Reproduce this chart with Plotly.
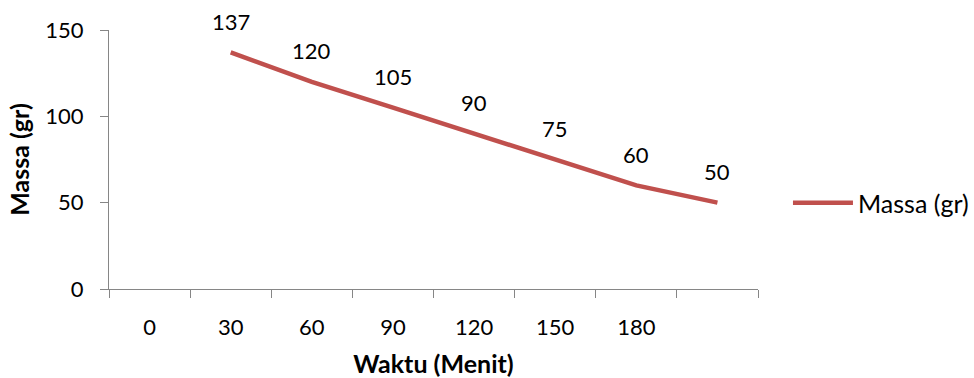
import plotly.graph_objects as go

# Time slots on the category axis (last slot carries no label)
waktu_labels = ["0", "30", "60", "90", "120", "150", "180", " "]
# Mass readings; the series begins in the second slot
massa = [None, 137, 120, 105, 90, 75, 60, 50]

line_color = "#C0504D"
axis_color = "#868686"
font_family = "Lato, 'Open Sans', sans-serif"
fs_tick = 22
fs_title = 25

fig = go.Figure()
fig.add_trace(go.Scatter(
    x=waktu_labels,
    y=massa,
    mode="lines",
    name="Massa (gr)",
    line=dict(color=line_color, width=4.5),
    connectgaps=False,
))

# Value labels above each point (category index used as x position)
for i, yv in enumerate(massa):
    if yv is None:
        continue
    fig.add_annotation(
        x=i, y=yv, xref="x", yref="y", text=str(yv), showarrow=False,
        yshift=31, font=dict(size=fs_tick, color="#000000", family=font_family),
    )

fig.update_layout(
    width=974, height=378,
    margin=dict(l=109, r=216, t=30, b=89),
    paper_bgcolor="white", plot_bgcolor="white",
    font=dict(family=font_family, size=fs_tick, color="#000000"),
    showlegend=True,
    legend=dict(
        xref="container", yref="container",
        x=0.809, y=1 - 203 / 378, xanchor="left", yanchor="middle",
        font=dict(size=fs_title), bgcolor="rgba(0,0,0,0)", itemwidth=60,
    ),
    xaxis=dict(
        type="category",
        categoryorder="array", categoryarray=waktu_labels,
        tickson="boundaries",
        ticks="outside", ticklen=8, tickcolor=axis_color, tickwidth=1.3,
        showline=True, linecolor=axis_color, linewidth=1.3,
        showgrid=False, zeroline=False,
        range=[-0.5, 7.5],
        automargin=False,
        tickfont=dict(size=fs_tick),
        ticklabelstandoff=18,
        title=dict(text="<b>Waktu (Menit)</b>", font=dict(size=fs_title), standoff=18),
    ),
    yaxis=dict(
        range=[0, 150], tick0=0, dtick=50,
        ticks="outside", ticklen=8, tickcolor=axis_color, tickwidth=1.3,
        showline=True, linecolor=axis_color, linewidth=1.3,
        showgrid=False, zeroline=False,
        automargin=False,
        tickfont=dict(size=fs_tick),
        ticklabelstandoff=12,
        title=dict(text="<b>Massa (gr)</b>", font=dict(size=fs_title), standoff=8),
    ),
)

fig.write_html("out.html")
